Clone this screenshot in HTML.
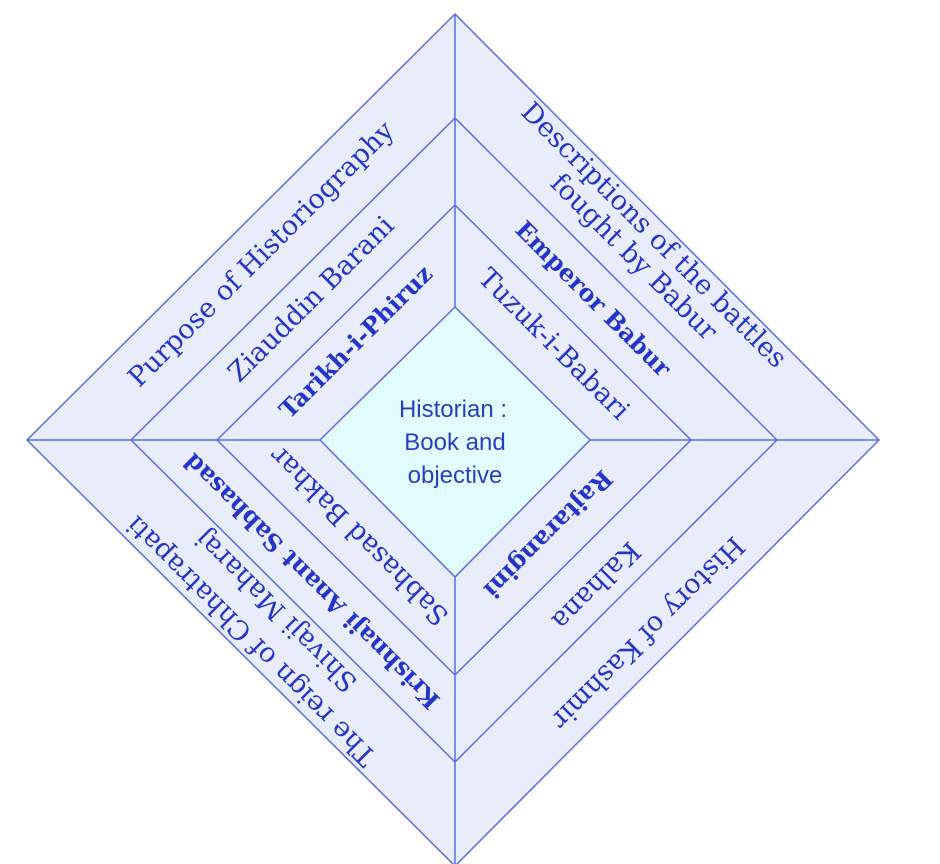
<!DOCTYPE html>
<html><head><meta charset="utf-8"><style>
html,body{margin:0;padding:0;background:#fff;}
svg{display:block}
.t{font-family:"DejaVu Serif","Liberation Serif",serif;fill:#2436c8;font-size:27px;text-anchor:middle;dominant-baseline:middle}
.b{font-weight:bold;font-size:24px}
.c{font-family:"Liberation Sans",sans-serif;fill:#2a3fc0;font-size:24px;text-anchor:middle}
</style></head><body>
<svg width="940" height="864" viewBox="0 0 940 864">
<g stroke="#5a6ee0" stroke-width="1.5" fill="#e9ecfb">
<polygon points="455,14 879,440 455,866 27,440"/>
<polygon points="455,118 777,440 455,762 131,440"/>
<polygon points="455,205 691,440 455,675 217,440"/>
<polygon points="455,307 590,440 455,577 320,440" fill="#e2fbfd"/>
<line x1="455" y1="14" x2="455" y2="307"/>
<line x1="455" y1="577" x2="455" y2="866"/>
<line x1="27" y1="440" x2="320" y2="440"/>
<line x1="590" y1="440" x2="879" y2="440"/>
</g>
<text class="t" transform="translate(262,255) rotate(-45)">Purpose of Historiography</text>
<text class="t" transform="translate(312,300) rotate(-45)">Ziauddin Barani</text>
<text class="t b" transform="translate(357,343) rotate(-45)">Tarikh-i-Phiruz</text>
<text class="t" transform="translate(653,236) rotate(45)">Descriptions of the battles</text>
<text class="t" transform="translate(633,258) rotate(45)">fought by Babur</text>
<text class="t b" transform="translate(592,300) rotate(45)">Emperor Babur</text>
<text class="t" transform="translate(553,345) rotate(45)">Tuzuk-i-Babari</text>
<text class="t b" transform="translate(547,533) rotate(135)">Rajtarangini</text>
<text class="t" transform="translate(595,585) rotate(135)">Kalhana</text>
<text class="t" transform="translate(647,632) rotate(135)">History of Kashmir</text>
<text class="t" transform="translate(360,535) rotate(-135)">Sabhasad Bakhar</text>
<text class="t b" transform="translate(313,580) rotate(-135)">Krishnaji Anant Sabhasad</text>
<text class="t" transform="translate(277,610) rotate(-135)">Shivaji Maharaj</text>
<text class="t" transform="translate(252,640) rotate(-135)">The reign of Chhatrapati</text>
<text class="c" x="453" y="417">Historian :</text>
<text class="c" x="455" y="450">Book and</text>
<text class="c" x="455" y="483">objective</text>
</svg>
</body></html>
